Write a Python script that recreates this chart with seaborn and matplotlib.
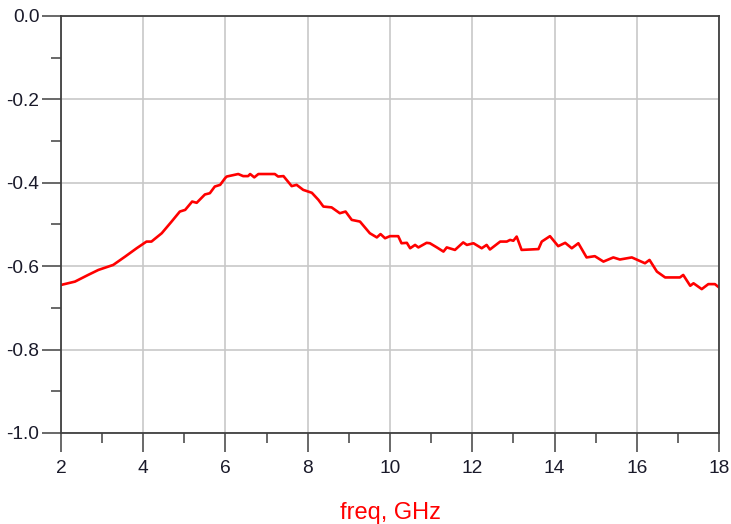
import numpy as np
import pandas as pd
import seaborn as sns
import matplotlib.pyplot as plt
from matplotlib.ticker import MultipleLocator

# frequency (GHz) and magnitude values
freq = [2.00, 2.34, 2.66, 2.91, 3.27, 3.56, 3.84, 4.08, 4.20, 4.45, 4.69, 4.89,
        5.02, 5.19, 5.30, 5.50, 5.62, 5.74, 5.87, 5.99, 6.03, 6.31, 6.43, 6.55,
        6.60, 6.70, 6.80, 7.20, 7.28, 7.41, 7.61, 7.73, 7.89, 8.10, 8.26, 8.38,
        8.58, 8.78, 8.92, 9.07, 9.27, 9.51, 9.68, 9.77, 9.88, 10.00, 10.20, 10.28,
        10.41, 10.49, 10.61, 10.69, 10.89, 10.97, 11.14, 11.30, 11.38, 11.58, 11.78, 11.87,
        12.03, 12.23, 12.35, 12.43, 12.68, 12.84, 12.92, 13.00, 13.08, 13.20, 13.61, 13.69,
        13.89, 14.09, 14.26, 14.42, 14.58, 14.78, 14.98, 15.19, 15.43, 15.59, 15.88, 16.20,
        16.31, 16.49, 16.69, 17.05, 17.13, 17.30, 17.38, 17.58, 17.74, 17.90, 18.00]
mag = [-0.645, -0.637, -0.621, -0.609, -0.597, -0.577, -0.557, -0.541, -0.541, -0.521, -0.493, -0.469,
       -0.465, -0.445, -0.448, -0.428, -0.425, -0.409, -0.405, -0.389, -0.385, -0.379, -0.384, -0.384,
       -0.379, -0.387, -0.379, -0.379, -0.385, -0.384, -0.408, -0.405, -0.417, -0.424, -0.441, -0.457,
       -0.459, -0.473, -0.469, -0.489, -0.493, -0.521, -0.531, -0.523, -0.533, -0.528, -0.528, -0.545,
       -0.544, -0.557, -0.549, -0.555, -0.544, -0.545, -0.555, -0.565, -0.555, -0.561, -0.543, -0.549,
       -0.545, -0.557, -0.549, -0.560, -0.541, -0.541, -0.537, -0.539, -0.529, -0.561, -0.559, -0.541,
       -0.528, -0.552, -0.544, -0.557, -0.545, -0.579, -0.576, -0.589, -0.579, -0.584, -0.579, -0.593,
       -0.585, -0.613, -0.627, -0.627, -0.621, -0.647, -0.641, -0.655, -0.643, -0.643, -0.651]

xticks = [2, 4, 6, 8, 10, 12, 14, 16, 18]
yticks = [-1.0, -0.8, -0.6, -0.4, -0.2, 0.0]

sns.set_style("white")
plt.rcParams['font.family'] = ['Liberation Sans', 'DejaVu Sans']

df = pd.DataFrame({"freq": freq, "mag": mag})

fig, ax = plt.subplots(figsize=(7.31, 5.24), dpi=100)
fig.subplots_adjust(left=0.0834, right=0.9836, top=0.9695, bottom=0.1737)

sns.lineplot(data=df, x="freq", y="mag", color="#ff0000", linewidth=1.9, ax=ax)

ax.set_xlim(2, 18)
ax.set_ylim(-1.0, 0.0)
ax.set_xticks(xticks)
ax.set_yticks(yticks)
ax.set_xticklabels([str(t) for t in xticks])
ax.set_yticklabels([f"{t:.1f}" for t in yticks])
ax.xaxis.set_minor_locator(MultipleLocator(1))
ax.yaxis.set_minor_locator(MultipleLocator(0.1))

ax.grid(True, which="major", color="#c8c8c8", linewidth=1.2)
for s in ax.spines.values():
    s.set_visible(True)
    s.set_color("#404040")
    s.set_linewidth(1.3)

ax.tick_params(axis="both", which="major", direction="out", length=13.5, width=1.1,
               color="#404040", labelsize=13.8, labelcolor="#1a1a2a")
ax.tick_params(axis="both", which="minor", direction="out", length=7, width=1.1,
               color="#404040")
ax.tick_params(axis="y", which="major", pad=2)
ax.tick_params(axis="x", which="major", pad=6)
ax.tick_params(bottom=True, left=True, which="both")

ax.set_ylabel("")
ax.set_xlabel("freq, GHz", color="#ff0000", fontsize=17, labelpad=18)

fig.savefig("out.png", dpi=100)
